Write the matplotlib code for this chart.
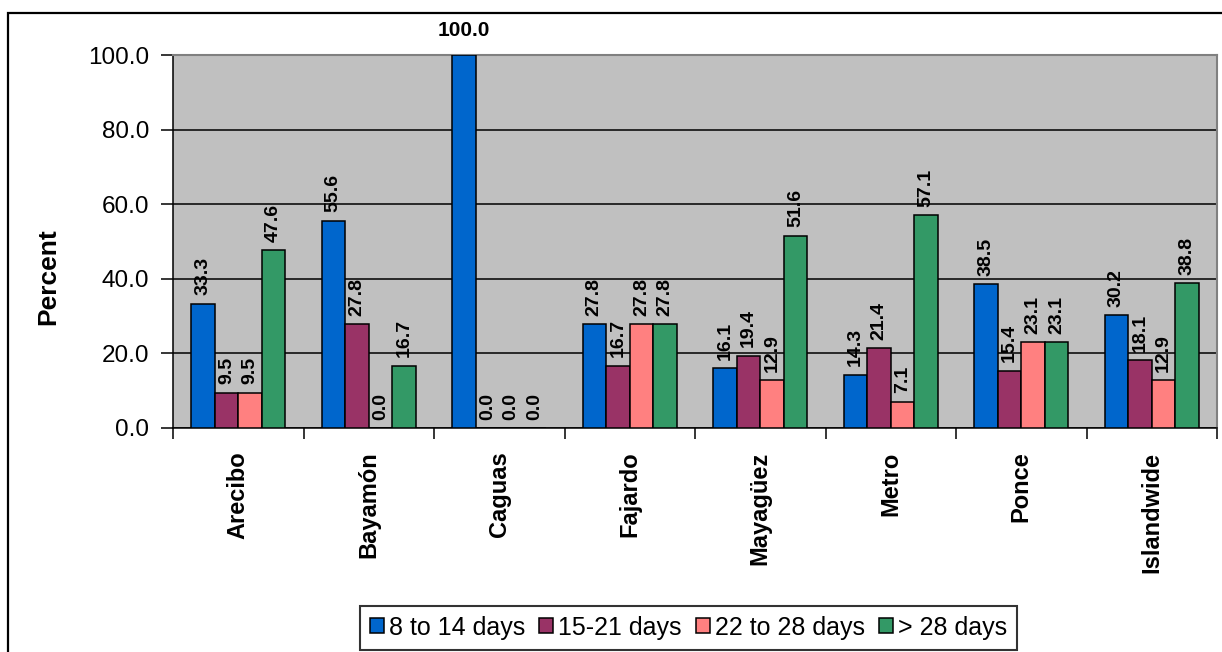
import matplotlib
matplotlib.use("Agg")
import matplotlib.pyplot as plt
import numpy as np
from matplotlib.patches import Rectangle

plt.rcParams['font.family'] = ['Liberation Sans', 'DejaVu Sans']

regions = ["Arecibo", "Bayamón", "Caguas", "Fajardo", "Mayagüez", "Metro", "Ponce", "Islandwide"]
series_names = ["8 to 14 days", "15-21 days", "22 to 28 days", "> 28 days"]
days_8_14 = [33.3, 55.6, 100.0, 27.8, 16.1, 14.3, 38.5, 30.2]
days_15_21 = [9.5, 27.8, 0.0, 16.7, 19.4, 21.4, 15.4, 18.1]
days_22_28 = [9.5, 0.0, 0.0, 27.8, 12.9, 7.1, 23.1, 12.9]
days_over_28 = [47.6, 16.7, 0.0, 27.8, 51.6, 57.1, 23.1, 38.8]
colors = ["#0066CC", "#993366", "#FF8080", "#339966"]

fig = plt.figure(figsize=(12.22, 6.52), dpi=100)
ax = fig.add_axes([173 / 1222, 1 - 428 / 652, 1044 / 1222, 373 / 652])
ax.set_facecolor("#C0C0C0")

x = np.arange(len(regions))
w = 0.181
all_series = [days_8_14, days_15_21, days_22_28, days_over_28]
for j, (vals, name, c) in enumerate(zip(all_series, series_names, colors)):
    pos = x + (j - 1.5) * w
    ax.bar(pos, vals, width=w, color=c, edgecolor="black", linewidth=1.1,
           label=name, zorder=3)
    for xi, v in zip(pos, vals):
        if v >= 100:
            # no room above the plot area, so the label lies flat
            ax.annotate(f"{v:.1f}", (xi, v), xytext=(0, 11), textcoords="offset points",
                        ha="center", va="bottom", fontsize=15, fontweight="bold",
                        annotation_clip=False)
        else:
            ax.annotate(f"{v:.1f}", (xi, v), xytext=(0, 6), textcoords="offset points",
                        ha="center", va="bottom", rotation=90, fontsize=14,
                        fontweight="bold", zorder=4)

ax.set_xlim(-0.5, len(regions) - 0.5)
ax.set_ylim(0, 100)
ax.set_yticks(np.arange(0, 101, 20))
ax.set_yticklabels([f"{t:.1f}" for t in np.arange(0, 101, 20)], fontsize=17.5)
ax.yaxis.grid(True, color="black", linewidth=1.1, zorder=1)
ax.tick_params(axis="y", direction="out", length=9, width=1.1, pad=8)

ax.set_xticks(x)
ax.set_xticklabels(regions, rotation=90, fontsize=17, fontweight="bold", va="top")
ax.tick_params(axis="x", which="major", length=0, pad=17)
ax.set_xticks(np.arange(-0.5, len(regions)), minor=True)
ax.tick_params(axis="x", which="minor", direction="out", length=8, width=1.1)

ax.set_ylabel("Percent", fontsize=19, fontweight="bold")
ax.yaxis.set_label_coords(-0.108, 0.405)

for side in ["left", "bottom"]:
    ax.spines[side].set_color("black")
    ax.spines[side].set_linewidth(1.1)
for side in ["top", "right"]:
    ax.spines[side].set_color("#808080")
    ax.spines[side].set_linewidth(1.5)

leg = fig.legend(loc="center", bbox_to_anchor=(688.5 / 1222, 1 - 627.5 / 652), ncol=4,
                 fontsize=18, frameon=True, fancybox=False, edgecolor="black",
                 handlelength=0.56, handleheight=0.56, handletextpad=0.2,
                 columnspacing=0.56, borderpad=0.4, borderaxespad=0)
leg.get_frame().set_linewidth(1.5)

# chart border
fig.patches.append(Rectangle((8 / 1222, -0.05), 1.2, 1.05 - 13 / 652,
                             transform=fig.transFigure, fill=False,
                             edgecolor="black", linewidth=1.6))

fig.savefig("out.png", dpi=100)
